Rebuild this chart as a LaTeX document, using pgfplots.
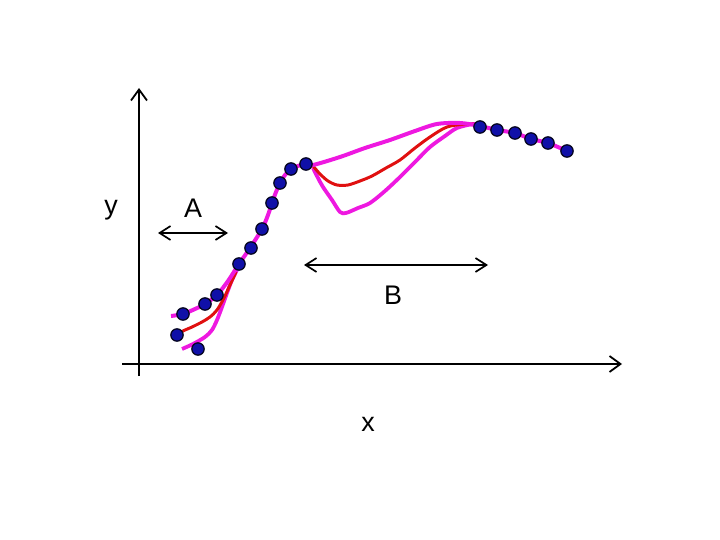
\documentclass[border=0pt]{standalone}
\usepackage{pgfplots}
\pgfplotsset{compat=1.18}
\usepackage{fontspec}
\setmainfont{Liberation Sans}
\usetikzlibrary{arrows.meta}
\definecolor{mag}{HTML}{EE18E0}
\definecolor{redline}{HTML}{E01010}
\definecolor{dotfill}{HTML}{1010A8}
\definecolor{dotedge}{HTML}{050520}
\begin{document}
\begin{tikzpicture}
\begin{axis}[
  scale only axis, width=720bp, height=540bp,
  xmin=0, xmax=720, ymin=0, ymax=540, y dir=reverse,
  axis lines=none, clip=false,
]
\path (axis cs:0,0) rectangle (axis cs:720,540);
% axes
\addplot[black, line width=2pt, -{Straight Barb[length=11pt,width=16pt,line width=1.8pt]}] coordinates {(139,376) (139,88)};
\addplot[black, line width=2pt, -{Straight Barb[length=11pt,width=16pt,line width=1.8pt]}] coordinates {(122,364) (622,364)};
% span arrows
\addplot[black, line width=1.8pt, {Straight Barb[length=11pt,width=14pt,line width=1.7pt]}-{Straight Barb[length=11pt,width=14pt,line width=1.7pt]}] coordinates {(158,233) (228,233)};
\addplot[black, line width=1.8pt, {Straight Barb[length=11pt,width=14pt,line width=1.7pt]}-{Straight Barb[length=11pt,width=14pt,line width=1.7pt]}] coordinates {(304,265) (488,265)};
% lower magenta
\addplot[mag, line width=3.8pt, smooth, line join=round] coordinates {
(182,349) (193,344) (205,337) (212,330) (217,320) (222,307) (227,293) (232,280) (237,270)};
\addplot[mag, line width=3.8pt, smooth, line join=round] coordinates {
(313,168) (318,178) (323,187) (332,200) (340,212) (346,213) (358,208) (370,203) (385,191) (400,177) (415,162) (430,147) (445,136) (457,128) (473,124) (480,125)};
% red
\addplot[redline, line width=3pt, smooth, line join=round] coordinates {
(177,335) (183,331) (192,327) (202,322) (210,317) (217,310) (224,298) (230,285) (236,272)};
\addplot[redline, line width=3pt, smooth, line join=round] coordinates {
(313,166) (320,174) (328,181) (337,185) (348,185) (360,181) (372,176) (386,168) (400,160) (415,148) (430,137) (447,127) (467,124) (480,125)};
% upper magenta
\addplot[mag, line width=4pt, smooth, line join=round] coordinates {
(171,316) (183,314) (195,309) (205,304) (217,295) (228,281) (239,264) (250,248) (262,229) (268,215) (272,203) (276,192) (280,183) (285,175) (291,169) (298,166) (305,164) (313,165)
(340,157) (365,148) (390,140) (415,131) (437,124) (460,123) (480,126) (497,130) (515,133) (531,139) (548,143) (567,151)};
% dots
\addplot[only marks, mark=*, mark size=6.2pt, mark options={fill=dotfill, draw=dotedge, line width=1.3pt}] coordinates {
(183,314) (205,304) (217,295) (177,335) (198,349) (239,264) (251,248) (262,229) (272,203) (280,183) (291,169) (306,164)
(480,127) (497,130) (515,133) (531,139) (548,143) (567,151)};
% labels
\node[font=\fontsize{27}{27}\selectfont] at (axis cs:111,210) {y};
\node[font=\fontsize{27}{27}\selectfont] at (axis cs:193,208) {A};
\node[font=\fontsize{27}{27}\selectfont] at (axis cs:393,295) {B};
\node[font=\fontsize{27}{27}\selectfont] at (axis cs:368,424) {x};
\end{axis}
\end{tikzpicture}
\end{document}
